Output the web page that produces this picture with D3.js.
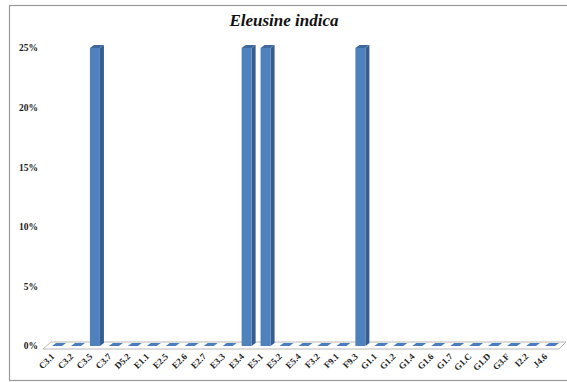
<!DOCTYPE html>
<html>
<head>
<meta charset="utf-8">
<script src="https://cdn.jsdelivr.net/npm/d3@7"></script>
<style>
  html, body { margin: 0; padding: 0; background: #fff; }
  svg { display: block; }
</style>
</head>
<body>
<svg id="chart" width="567" height="382"></svg>
<script>
// Sample codes along the x axis
const categories = ["C3.1","C3.2","C3.5","C3.7","D5.2","E1.1","E2.5","E2.6","E2.7","E3.3",
  "E3.4","E5.1","E5.2","E5.4","F3.2","F9.1","F9.3","G1.1","G1.2","G1.4","G1.6","G1.7",
  "G1.C","G1.D","G3.F","I2.2","J4.6"];
// Share of samples with Eleusine indica
const values = [0,0,0.25,0,0,0,0,0,0,0,0.25,0.25,0,0,0,0,0.25,0,0,0,0,0,0,0,0,0,0];
const yTicks = [0,0.05,0.10,0.15,0.20,0.25];
const title = "Eleusine indica";

const FONT = "'Liberation Serif', 'Times New Roman', Times, serif";
const svg = d3.select("#chart").attr("font-family", FONT);

// outer frame
svg.append("rect").attr("x", 9.5).attr("y", 5.5).attr("width", 560).attr("height", 375)
  .attr("fill", "#fff").attr("stroke", "#9a9a9a").attr("stroke-width", 1.2);

const x = d3.scalePoint().domain(categories).range([57, 550]);
const y = d3.scaleLinear().domain([0, 0.25]).range([346, 48]);

const barW = 10, depthX = 4, depthY = 3;

// floor
const floorFrontY = 349, floorBackY = 342;
svg.append("polygon")
  .attr("points", [[43, floorFrontY],[559, floorFrontY],[566, floorBackY],[51, floorBackY]].join(" "))
  .attr("fill", "#fff").attr("stroke", "#b8b8b8").attr("stroke-width", 1);

// 3D columns
const bars = svg.append("g").selectAll("g").data(categories.map((c, i) => ({c, v: values[i]})))
  .join("g");

bars.each(function(d) {
  const g = d3.select(this);
  const x0 = x(d.c) - barW / 2, x1 = x0 + barW;
  const yb = y(0), yt = y(d.v);
  if (d.v > 0) {
    // side face
    g.append("polygon")
      .attr("points", [[x1, yt],[x1 + depthX, yt - depthY],[x1 + depthX, yb - depthY],[x1, yb]].join(" "))
      .attr("fill", "#355d8f");
    // front face
    g.append("rect").attr("x", x0).attr("y", yt).attr("width", barW).attr("height", yb - yt)
      .attr("fill", "#4f81bd");
  }
  // top face
  g.append("polygon")
    .attr("points", [[x0, yt],[x1, yt],[x1 + depthX, yt - depthY],[x0 + depthX, yt - depthY]].join(" "))
    .attr("fill", d.v > 0 ? "#3f6aa0" : "#4a7cc0");
});

// y axis labels
svg.append("g").selectAll("text").data(yTicks).join("text")
  .attr("x", 38).attr("y", d => y(d)).attr("dy", "0.35em")
  .attr("text-anchor", "end").attr("font-size", 9.5).attr("font-weight", "bold")
  .attr("fill", "#222")
  .text(d => d3.format(".0%")(d));

// x axis labels
svg.append("g").selectAll("text").data(categories).join("text")
  .attr("transform", d => `translate(${x(d) - 2},${357}) rotate(-45)`)
  .attr("text-anchor", "end").attr("font-size", 9).attr("font-weight", "bold")
  .attr("fill", "#222")
  .text(d => d);

// title
svg.append("text").attr("x", 284).attr("y", 26).attr("text-anchor", "middle")
  .attr("font-size", 17).attr("font-weight", "bold").attr("font-style", "italic")
  .attr("fill", "#111").text(title);
</script>
</body>
</html>
